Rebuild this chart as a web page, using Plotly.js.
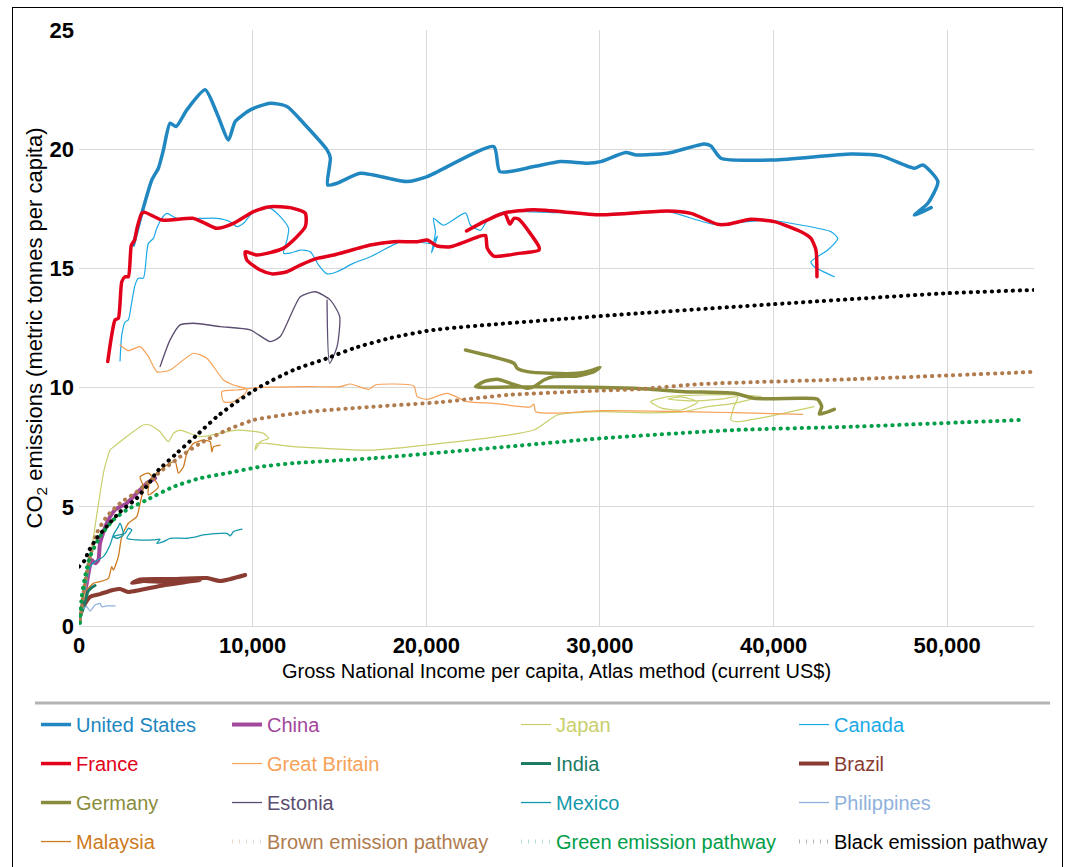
<!DOCTYPE html>
<html><head><meta charset="utf-8">
<script src="https://cdn.plot.ly/plotly-3.0.1.min.js"></script>
<style>
html,body{margin:0;padding:0;background:#fff;overflow:hidden;}
#chart{position:absolute;left:0;top:0;width:1067px;height:867px;}
#frame{position:absolute;left:12px;top:7px;width:1051px;height:880px;border:1px solid #000;box-sizing:border-box;pointer-events:none;}
.scatterlayer path.js-line{stroke-linecap:round;stroke-linejoin:round;}
</style></head><body>
<div id="chart"></div><div id="frame"></div>
<script>
// ---- data (GNI per capita US$, CO2 t per capita) ----
const usX = [3131,3616,4193,4573,4862,5248,5594,6211,7266,7941,8610,8997,9862,11015,11978,12935,14285,14475,14320,14862,16205,18898,20052,23893,24239,26200,27740,29280,30046,31488,32065,33892,36003,36389,36966,40040,44465,46195,48114,48600,49465,48888,48114,49077];
const usY = [15.98,17.31,18.71,19.20,19.97,21.09,20.95,21.65,22.49,21.51,20.39,21.16,21.65,21.93,21.79,21.09,19.97,19.63,18.50,18.57,18.99,18.64,18.85,20.11,19.06,19.27,19.48,19.41,19.48,19.86,19.76,19.83,20.22,20.14,19.62,19.55,19.80,19.72,19.20,19.34,18.64,17.73,17.24,17.55];

const frX = [1655,1886,2076,2266,2463,2653,2843,3016,3201,3345,3616,3806,4769,6546,7266,7941,8898,10052,11015,12168,13033,13033,11782,10248,9573,9671,10438,11113,11978,12745,13708,14666,16782,18126,19475,20052,20629,21396,23125,23414,23512,23893,25242,26488,26488,25335,25047,24815,24510,23414,22318,23414,24510,26200,30046,33892,35242,36776,37353,38696,40040,41578,42155,42443,42501];
const frY = [11.09,12.21,12.84,12.91,14.44,14.65,14.65,15.98,16.19,16.70,17.31,17.35,17.03,17.10,16.89,16.68,16.89,17.38,17.59,17.55,17.31,16.75,15.85,15.56,15.70,15.35,14.93,14.77,14.86,15.14,15.42,15.56,15.98,16.12,16.12,16.19,15.94,15.91,16.36,16.38,15.85,15.51,15.62,15.77,15.91,17.06,17.10,16.86,17.31,16.99,16.57,16.99,17.33,17.46,17.25,17.41,17.31,16.85,16.85,17.06,16.96,16.54,16.26,15.77,14.65];

const caX = [2364,2463,2653,2843,3039,3230,3420,3708,3904,3997,4285,4481,4769,5058,5634,7941,8708,9095,9475,10052,11015,11592,12070,11978,11782,12168,12745,13322,13800,14285,14862,15819,16782,18512,19475,20340,20646,20300,20531,20415,20992,22261,22549,23125,23529,24452,26182,30046,33892,36580,39659,41578,43308,43694,43118,42155,42347,43500];
const caY = [11.12,12.21,12.75,12.84,13.59,14.31,14.59,14.59,15.69,16.05,16.26,16.68,17.10,17.31,17.10,17.10,16.96,16.75,16.89,17.38,17.52,17.17,16.68,16.19,15.64,15.64,15.77,15.70,15.14,14.77,14.86,15.22,15.49,16.11,16.12,16.05,16.36,15.65,16.52,17.10,16.81,17.33,16.81,16.60,17.02,17.37,17.37,17.28,17.38,16.85,17.03,16.82,16.54,16.26,15.77,15.28,15.07,14.65];

const cnX = [156,444,732,923,1113,1211,1597,2076,2751,3328,3904,4383];
const cnY = [0.67,1.79,2.77,2.63,2.77,3.47,4.31,4.87,5.15,5.57,5.99,6.20];

const jpX = [288,634,980,1442,1788,1886,3708,4095,4671,5150,5438,5825,6978,9095,10629,10917,10438,10150,10248,10825,12359,16205,16972,26200,27548,30046,33102,34833,36217,37716,38985,39273,38119,35812,33910,32930,33507,34660,35640,34660,33910,35236,36966,37947,37716,37543,37947,39677,42330];
const jpY = [1.09,2.77,4.45,6.54,7.38,7.45,8.43,8.43,8.15,7.73,8.08,8.22,7.94,8.22,8.08,7.87,7.73,7.38,7.66,7.66,7.52,7.38,7.38,8.22,8.85,8.99,8.94,8.99,9.20,9.34,9.56,9.62,9.69,9.69,9.62,9.41,9.15,9.06,9.40,9.61,9.52,9.44,9.52,9.61,9.19,8.64,8.57,8.78,9.20];

const gbX = [2364,2843,3518,3997,4498,5248,6592,7364,8322,8898,9671,9573,8898,8322,8230,9095,10438,13322,15052,15629,16684,17070,19279,19475,20052,21205,22359,23893,26009,26200,26297,27548,30046,37734,41678];
const gbY = [11.79,11.55,11.72,11.30,10.66,10.74,11.44,11.23,10.32,10.11,9.93,9.76,9.41,9.41,9.83,9.90,10.01,10.04,10.04,10.15,9.93,10.11,10.07,9.62,9.51,9.76,9.41,9.34,9.19,9.31,8.99,8.93,9.03,8.95,8.88];

const deX = [22261,25047,25242,25819,27163,28703,29470,30006,29660,28703,27353,26777,26200,25819,24856,24089,23316,22837,23125,26200,31967,34850,37734,38887,41578,42541,42772,42636,43500];
const deY = [11.58,11.02,10.81,10.67,10.60,10.60,10.71,10.85,10.67,10.49,10.46,10.32,10.04,9.97,10.18,10.35,10.25,10.04,10.01,10.04,9.97,9.83,9.76,9.55,9.55,9.51,9.20,8.89,9.09];

const eeX = [4671,5248,5825,6592,8131,9862,11015,11592,12745,13610,14475,15012,14862,14435,14285];
const eeY = [10.88,12.00,12.63,12.70,12.56,12.42,11.93,12.14,13.81,14.02,13.67,12.98,11.72,11.02,13.67];

const myX = [346,536,825,1211,1690,1886,1978,2266,2463,2843,3328,3518,3708,3518,3997,4573,3997,4095,5058,5536,5727,6015,6211,6592,7168,7555,7653,7745,8131];
const myY = [1.51,1.58,1.79,1.86,2.00,2.49,2.35,2.91,3.75,4.31,4.59,5.15,5.84,6.26,6.41,5.84,5.50,6.12,6.75,6.90,6.41,6.68,7.25,7.66,7.80,7.73,7.31,7.52,7.59];

const brX = [248,634,1211,1961,2364,2826,3518,4960,6978,4960,3691,3057,3518,5248,7382,8131,9573];
const brY = [0.81,1.22,1.34,1.51,1.55,1.43,1.51,1.72,1.93,1.85,1.89,1.80,1.95,1.97,2.01,1.89,2.14];

const inX = [58,173,288,404,519,750,923];
const inY = [0.34,0.59,0.84,1.17,1.45,1.62,1.70];

const mxX = [346,634,923,1401,1788,1978,2266,2364,2555,2174,1978,2653,2843,3039,2751,3328,4285,4671,4481,4862,5248,6211,6788,7168,8518,8708,8898,9383];
const mxY = [1.51,2.49,2.70,2.91,3.40,3.82,4.17,4.31,3.82,3.68,3.75,3.89,4.10,4.03,3.68,3.61,3.61,3.64,3.47,3.54,3.68,3.68,3.75,3.82,3.89,3.78,3.96,4.06];

const phX = [248,444,634,923,1211,1309,1597,2076];
const phY = [0.74,0.81,0.63,0.88,0.95,0.81,0.84,0.84];

const brownX = [58,346,634,1021,1597,2364,3328,4671,5825,6978,8518,10052,13131,16972,20819,24665,28506,32353,35813,44464,55000];
const brownY = [0.25,1.79,2.91,3.89,4.59,5.15,5.63,6.47,7.10,7.66,8.22,8.64,8.98,9.20,9.39,9.69,9.83,9.94,10.15,10.35,10.66];

const greenX = [58,156,346,634,1211,1978,2751,3904,5438,6978,8518,10438,12359,16972,24665,30046,37734,44464,54152];
const greenY = [0.13,1.23,2.07,2.91,3.75,4.45,4.87,5.29,5.84,6.20,6.41,6.68,6.83,7.04,7.52,7.87,8.22,8.36,8.64];

const blackX = [0,346,536,1021,1597,2364,3328,4095,4481,5634,6788,7941,9095,10438,12359,14285,15819,17935,20433,30046,40040,50040,55034];
const blackY = [2.49,2.77,3.12,3.68,4.17,4.79,5.36,6.05,6.47,7.25,8.01,8.78,9.41,10.04,10.74,11.23,11.65,12.08,12.42,13.00,13.50,13.96,14.10];

const seriesNames = ['United States','Canada','France','China','Japan','Great Britain','Germany','Estonia','Malaysia','Brazil','India','Mexico','Philippines','Brown emission pathway','Green emission pathway','Black emission pathway'];
const xTickVals = [0,10000,20000,30000,40000,50000];
const yTickVals = [0,5,10,15,20,25];

// ---- styles ----
const xs = [usX,caX,frX,cnX,jpX,gbX,deX,eeX,myX,brX,inX,mxX,phX,brownX,greenX,blackX];
const ys = [usY,caY,frY,cnY,jpY,gbY,deY,eeY,myY,brY,inY,mxY,phY,brownY,greenY,blackY];
const colors = ['#2187c0','#1aa9e6','#e2001a','#a2479b','#c9cf6c','#f6a258','#898c3c','#5b4d70','#cf7a21','#8a3b32','#1c7a64','#1499ab','#8fb2dc','#b07c4e','#009e49','#000000'];
const widths = [3.5,1.2,3.5,4,1.2,1.2,3.5,1.3,1.3,4,3,1.3,1.3,4,4,4];
const legendIds = ['legend','legend4','legend','legend2','legend3','legend2','legend','legend2','legend','legend4','legend3','legend3','legend4','legend2','legend3','legend4'];
const dotted = [false,false,false,false,false,false,false,false,false,false,false,false,false,true,true,true];

const traces = seriesNames.map((n,i)=>({
  type:'scatter', mode:'lines', x:xs[i], y:ys[i],
  name:'<span style="color:'+colors[i]+'">'+n+'</span>',
  legend:legendIds[i], legendgroup:n,
  line:{color:colors[i], width:widths[i], shape:'spline', smoothing:0.6, dash: dotted[i] ? '0.3px,6.7px' : 'solid'},
  hoverinfo:'skip'
}));

const fam = '"Liberation Sans", Arial, sans-serif';
const font = {family:fam, size:20, color:'#000'};
function leg(x){
  return {x:x, y:-0.1326, xanchor:'left', yanchor:'top', orientation:'v', traceorder:'grouped',
    tracegroupgap:10, itemwidth:30, font:font, bgcolor:'rgba(0,0,0,0)', borderwidth:0};
}

const layout = {
  width:1067, height:867,
  margin:{l:79, r:33, t:30, b:241, autoexpand:false},
  paper_bgcolor:'rgba(0,0,0,0)', plot_bgcolor:'#fff',
  font:font, showlegend:true,
  legend:leg(-0.045), legend2:leg(0.155), legend3:leg(0.4576), legend4:leg(0.7487),
  xaxis:{range:[0,55000], tickvals:xTickVals, tickformat:',', showgrid:true, gridcolor:'#d9d9d9', gridwidth:1,
    zeroline:false, showline:true, linecolor:'#d9d9d9', ticks:'',
    tickfont:{family:fam, size:22, color:'#000', weight:'bold'},
    title:{text:'Gross National Income per capita, Atlas method (current US$)', font:font, standoff:6}},
  yaxis:{range:[0,25], tickvals:yTickVals, showgrid:true, gridcolor:'#d9d9d9', gridwidth:1,
    zeroline:false, showline:false, ticks:'', ticklabelstandoff:4,
    tickfont:{family:fam, size:22, color:'#000', weight:'bold'},
    title:{text:'CO<sub>2</sub> emissions (metric tonnes per capita)', font:{family:fam, size:22, color:'#000'}, standoff:0}},
  shapes:[{type:'line', xref:'paper', yref:'paper', x0:-0.0461, x1:1.0168, y0:-0.1292, y1:-0.1292,
    line:{color:'#b3b3b3', width:3}}]
};

Plotly.newPlot('chart', traces, layout, {displayModeBar:false, staticPlot:true});
</script></body></html>
